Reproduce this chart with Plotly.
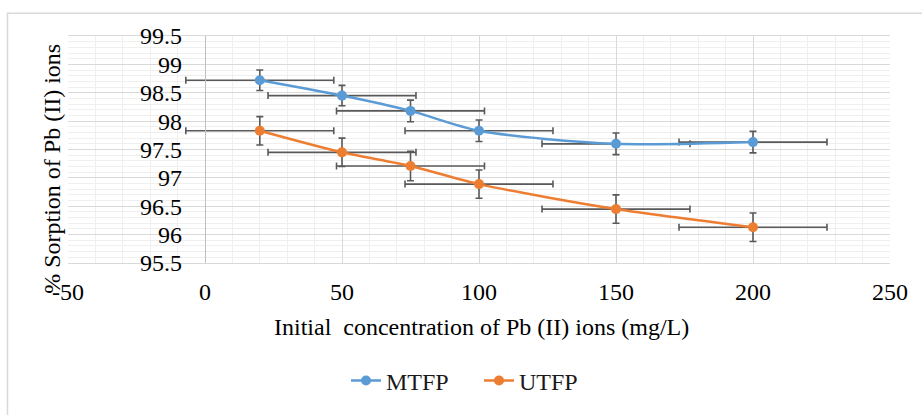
import plotly.graph_objects as go

conc = [20, 50, 75, 100, 150, 200]
mtfp = [98.72, 98.45, 98.18, 97.83, 97.60, 97.63]
utfp = [97.83, 97.45, 97.21, 96.89, 96.45, 96.13]
mtfp_err = [0.18, 0.18, 0.19, 0.19, 0.19, 0.19]
utfp_err = [0.25, 0.25, 0.26, 0.25, 0.25, 0.25]
x_err = [27, 27, 27, 27, 27, 27]
x_ticks = [-50, 0, 50, 100, 150, 200, 250]
x_ticktext = ["-50", "0", "50", "100", "150", "200", "250"]
y_ticks = [95.5, 96, 96.5, 97, 97.5, 98, 98.5, 99, 99.5]
y_ticktext = ["95.5", "96", "96.5", "97", "97.5", "98", "98.5", "99", "99.5"]

FONT = "Liberation Serif"
FS = 24
W, H = 922, 415
L, R, T, B = 68, 32, 36, 150
pw, ph = W - L - R, H - T - B


def px_x(p):
    return (p - L) / pw


def px_y(p):
    return (H - B - p) / ph


err_style = dict(color="#595959", thickness=1.6, width=3.5)

fig = go.Figure()
for name, ys, ye, col in [("MTFP", mtfp, mtfp_err, "#5B9BD5"), ("UTFP", utfp, utfp_err, "#ED7D31")]:
    fig.add_trace(go.Scatter(
        x=conc, y=ys, name=name, mode="lines+markers",
        line=dict(color=col, width=2.5, shape="spline", smoothing=0.8),
        marker=dict(color=col, size=10, symbol="circle"),
        error_y=dict(type="data", array=ye, visible=True, **err_style),
        error_x=dict(type="data", array=x_err, visible=True, **err_style),
    ))

fig.update_layout(
    width=W, height=H,
    margin=dict(l=L, r=R, t=T, b=B),
    paper_bgcolor="white", plot_bgcolor="white",
    font=dict(family=FONT, size=FS, color="black"),
    showlegend=True,
    legend=dict(orientation="h", x=px_x(346), y=px_y(384), xanchor="left", yanchor="middle",
                font=dict(family=FONT, size=FS, color="#1a1a1a"), itemwidth=30,
                entrywidth=88, entrywidthmode="pixels"),
    xaxis=dict(range=[-50, 250], tickvals=x_ticks, ticktext=x_ticktext, showgrid=True,
               gridcolor="#D9D9D9", gridwidth=1.3,
               minor=dict(dtick=10, showgrid=True, gridcolor="#EFEFEF", gridwidth=1.3),
               zeroline=False, showline=True, linecolor="#D9D9D9", linewidth=1.3, mirror=True,
               ticks="", ticklabelstandoff=7, tickfont=dict(family=FONT, size=FS, color="black")),
    yaxis=dict(range=[95.5, 99.5], tickvals=y_ticks, ticktext=y_ticktext, showgrid=True,
               gridcolor="#D9D9D9", gridwidth=1.3,
               minor=dict(dtick=0.1, showgrid=True, gridcolor="#EFEFEF", gridwidth=1.3),
               anchor="free", position=50 / 300, showline=True, linecolor="#BFBFBF", linewidth=1.3,
               zeroline=False, ticks="", ticklabelstandoff=18,
               tickfont=dict(family=FONT, size=FS, color="black")),
    annotations=[
        dict(text="Initial  concentration of Pb (II) ions (mg/L)", xref="paper", yref="paper",
             x=px_x(481), y=px_y(330), xanchor="center", yanchor="middle", showarrow=False,
             font=dict(family=FONT, size=FS, color="black")),
        dict(text="% Sorption of Pb (II) ions", xref="paper", yref="paper", textangle=-90,
             x=px_x(52), y=px_y(170), xanchor="center", yanchor="middle", showarrow=False,
             font=dict(family=FONT, size=FS, color="black")),
    ],
    shapes=[
        dict(type="path", xref="paper", yref="paper",
             path=f"M {px_x(7.5)},{px_y(430)} L {px_x(7.5)},{px_y(13)} L {px_x(940)},{px_y(13)}",
             line=dict(color="#D9D9D9", width=1.5)),
    ],
)

fig.write_html("out.html")
